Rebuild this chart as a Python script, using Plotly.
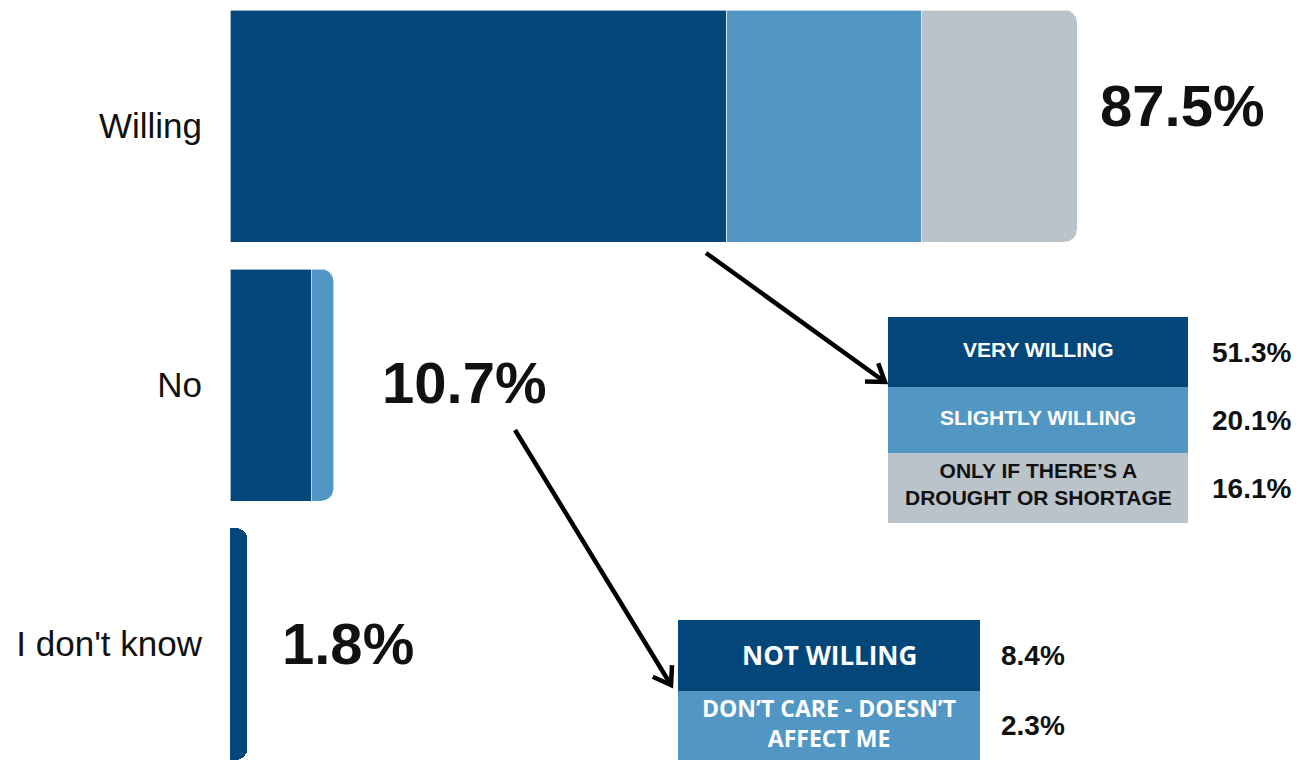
import math
import plotly.graph_objects as go

# --- data -------------------------------------------------------------
categories = ["Willing", "No", "I don't know"]
totals = [87.5, 10.7, 1.8]

willing_labels = ["VERY WILLING", "SLIGHTLY WILLING", "ONLY IF THERE’S A<br>DROUGHT OR SHORTAGE"]
willing_values = [51.3, 20.1, 16.1]

no_labels = ["NOT WILLING", "DON’T CARE - DOESN’T<br>AFFECT ME"]
no_values = [8.4, 2.3]

unknown_values = [1.8]

# --- style ------------------------------------------------------------
DARK = "#03477A"
MID = "#5297C4"
GREY = "#BAC3CA"
willing_colors = [DARK, MID, GREY]
willing_text = ["white", "white", "#111111"]
no_colors = [DARK, MID]

W, H = 1311, 760
ML = 230
PX_PER_PCT = 9.68


def px(x):
    return (x - ML) / (W - ML)


def py(y):
    return 1 - y / H


fig = go.Figure()

for lab, val, col in zip(willing_labels, willing_values, willing_colors):
    fig.add_trace(go.Bar(y=[categories[0]], x=[val], orientation="h", name=lab,
                         marker=dict(color=col, line=dict(color="white", width=0.6))))
for lab, val, col in zip(no_labels, no_values, no_colors):
    fig.add_trace(go.Bar(y=[categories[1]], x=[val], orientation="h", name=lab,
                         marker=dict(color=col, line=dict(color="white", width=0.6))))
fig.add_trace(go.Bar(y=[categories[2]], x=unknown_values, orientation="h", name=categories[2],
                     marker=dict(color=DARK, line=dict(width=0))))

annotations = []
shapes = []

# totals next to each bar
total_pos = [(1098, 105), (380, 383), (280, 643)]
for t, (x, y) in zip(totals, total_pos):
    annotations.append(dict(x=px(x), y=py(y), xref="paper", yref="paper", xanchor="left",
                            yanchor="middle", text=f"<b>{t}%</b>", showarrow=False,
                            font=dict(family="Liberation Sans", size=58, color="#111111")))


def table(x0, x1, row_edges, labels, values, colors, text_colors, font, sizes, dy, vx, vsize):
    for i, (lab, val) in enumerate(zip(labels, values)):
        y0, y1 = row_edges[i], row_edges[i + 1]
        shapes.append(dict(type="rect", xref="paper", yref="paper", x0=px(x0), x1=px(x1),
                           y0=py(y1), y1=py(y0), fillcolor=colors[i], line=dict(width=0),
                           layer="above"))
        annotations.append(dict(x=px((x0 + x1) / 2), y=py((y0 + y1) / 2 + dy[i]), xref="paper",
                                yref="paper", xanchor="center", yanchor="middle",
                                text=f"<b>{lab}</b>", showarrow=False,
                                font=dict(family=font, size=sizes[i], color=text_colors[i])))
        annotations.append(dict(x=px(vx), y=py((y0 + y1) / 2), xref="paper", yref="paper",
                                xanchor="center", yanchor="middle",
                                text=f"<b>{val}%</b>", showarrow=False,
                                font=dict(family="Liberation Sans", size=vsize, color="#111111")))


table(888, 1188, [317, 387, 453, 523], willing_labels, willing_values,
      willing_colors, willing_text, "Liberation Sans", [21, 21, 21], [-3, -3, -4], 1251, 28)
table(678, 980, [620, 691, 760], no_labels, no_values,
      no_colors, ["white", "white"], "Open Sans", [26, 23], [-1, -3], 1033, 28)


def arrow(x0, y0, x1, y1, head=20, width=4.5):
    shapes.append(dict(type="line", xref="paper", yref="paper", x0=px(x0), y0=py(y0),
                       x1=px(x1), y1=py(y1), line=dict(color="black", width=width)))
    ang = math.atan2(y1 - y0, x1 - x0)
    pts = []
    for d in (-0.6, 0.6):
        a = ang + math.pi + d
        pts.append((x1 + head * math.cos(a), y1 + head * math.sin(a)))
    path = (f"M {px(pts[0][0])},{py(pts[0][1])} L {px(x1)},{py(y1)} "
            f"L {px(pts[1][0])},{py(pts[1][1])}")
    shapes.append(dict(type="path", xref="paper", yref="paper", path=path,
                       line=dict(color="black", width=width)))


arrow(706, 253, 885, 382)
arrow(515, 430, 671, 685)

fig.update_layout(
    width=W, height=H,
    margin=dict(l=ML, r=0, t=0, b=0),
    barmode="stack",
    barcornerradius=12,
    bargap=1 - 232 / 259,
    showlegend=False,
    plot_bgcolor="white",
    paper_bgcolor="white",
    xaxis=dict(range=[0, (W - ML) / PX_PER_PCT], visible=False),
    yaxis=dict(type="category", categoryarray=categories,
               range=[(H - 126) / 259, -126 / 259],
               showgrid=False, zeroline=False, showline=False, ticks="",
               ticklabelstandoff=27,
               tickfont=dict(family="Liberation Sans", size=35, color="#111111")),
    annotations=annotations,
    shapes=shapes,
)

fig.write_html("out.html")
